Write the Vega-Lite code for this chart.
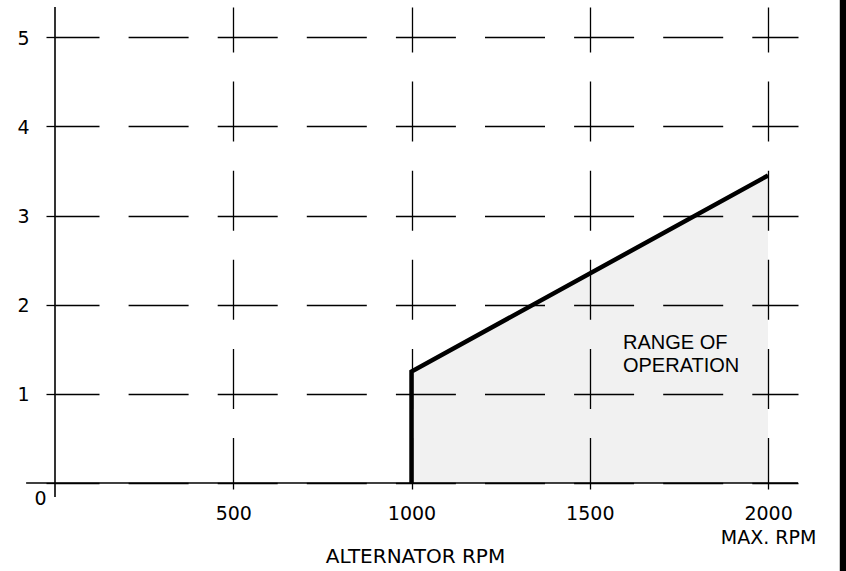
{
  "$schema": "https://vega.github.io/schema/vega-lite/v6.json",
  "width": 743,
  "height": 476,
  "autosize": {"type": "none"},
  "padding": {"left": 55, "top": 7, "right": 48, "bottom": 88},
  "background": "white",
  "view": {"stroke": null},
  "config": {
    "font": "DejaVu Sans",
    "axis": {"labelFont": "DejaVu Sans", "titleFont": "DejaVu Sans", "labelColor": "black", "titleColor": "black"}
  },
  "datasets": {
    "curve": [
      {"rpm": 1000, "value": 0, "step": 1},
      {"rpm": 1000, "value": 1.25, "step": 2},
      {"rpm": 2000, "value": 3.45, "step": 3}
    ],
    "range": [
      {"rpm": 1000, "value": 1.25},
      {"rpm": 2000, "value": 3.45}
    ],
    "notes": [
      {"rpm": 1593, "value": 1.566, "text": "RANGE OF"},
      {"rpm": 1593, "value": 1.313, "text": "OPERATION"}
    ],
    "frame": [{}]
  },
  "layer": [
    {
      "data": {"name": "range"},
      "mark": {"type": "area", "fill": "#f1f1f1", "stroke": null},
      "encoding": {
        "x": {
          "field": "rpm", "type": "quantitative",
          "scale": {"domain": [0, 2084], "nice": false, "zero": false},
          "axis": {
            "values": [500, 1000, 1500, 2000],
            "format": "d",
            "labelExpr": "datum.value == 2000 ? ['2000', 'MAX. RPM'] : datum.label",
            "labelLineHeight": 24,
            "labelFontSize": 19,
            "labelPadding": 15,
            "labelOverlap": false,
            "labelFlush": false,
            "labelBound": false,
            "domain": false,
            "ticks": true,
            "tickSize": 6,
            "tickColor": "black",
            "tickWidth": 1.3,
            "grid": true,
            "gridColor": "black",
            "gridOpacity": 1,
            "gridWidth": 1.3,
            "gridDash": [60, 29.1],
            "gridDashOffset": 15,
            "title": "ALTERNATOR RPM",
            "titleFontSize": 20,
            "titleFontWeight": "normal",
            "titleX": 360,
            "titleY": 73,
            "titleAlign": "center",
            "titleBaseline": "middle",
            "zindex": 1
          }
        },
        "y": {
          "field": "value", "type": "quantitative",
          "scale": {"domain": [0, 5.34], "nice": false, "zero": false},
          "axis": {
            "values": [0, 1, 2, 3, 4, 5],
            "format": "d",
            "labelFontSize": 19,
            "labelPadding": {"condition": {"test": "datum.value == 0", "value": 0}, "value": 17},
            "labelOffset": {"condition": {"test": "datum.value == 0", "value": 15}, "value": 1},
            "labelOverlap": false,
            "labelFlush": false,
            "labelBound": false,
            "domain": false,
            "ticks": true,
            "tickSize": 9,
            "tickColor": "black",
            "tickWidth": 1.3,
            "grid": true,
            "gridColor": "black",
            "gridOpacity": 1,
            "gridWidth": 1.3,
            "gridDash": [60, 29.1],
            "gridDashOffset": 16,
            "title": null,
            "zindex": 1
          }
        },
        "y2": {"datum": 0}
      }
    },
    {
      "data": {"name": "frame"},
      "mark": {"type": "rule", "color": "black", "strokeWidth": 1.6, "clip": false},
      "encoding": {
        "x": {"datum": -81, "type": "quantitative"},
        "x2": {"datum": 2084},
        "y": {"datum": 0, "type": "quantitative"}
      }
    },
    {
      "data": {"name": "frame"},
      "mark": {"type": "rule", "color": "black", "strokeWidth": 1.6, "clip": false},
      "encoding": {
        "x": {"datum": 0, "type": "quantitative"},
        "y": {"datum": -0.157, "type": "quantitative"},
        "y2": {"datum": 5.34}
      }
    },
    {
      "data": {"name": "frame"},
      "mark": {"type": "rule", "color": "black", "strokeWidth": 7, "clip": false},
      "encoding": {
        "x": {"datum": 2211, "type": "quantitative"},
        "y": {"datum": -1.0, "type": "quantitative"},
        "y2": {"datum": 5.45}
      }
    },
    {
      "data": {"name": "curve"},
      "mark": {"type": "line", "color": "black", "strokeWidth": 4.5, "strokeJoin": "miter"},
      "encoding": {
        "x": {"field": "rpm", "type": "quantitative"},
        "y": {"field": "value", "type": "quantitative"},
        "order": {"field": "step", "type": "quantitative"}
      }
    },
    {
      "data": {"name": "notes"},
      "mark": {"type": "text", "align": "left", "baseline": "middle", "fontSize": 20, "font": "Liberation Sans", "color": "black"},
      "encoding": {
        "x": {"field": "rpm", "type": "quantitative"},
        "y": {"field": "value", "type": "quantitative"},
        "text": {"field": "text"}
      }
    }
  ]
}
